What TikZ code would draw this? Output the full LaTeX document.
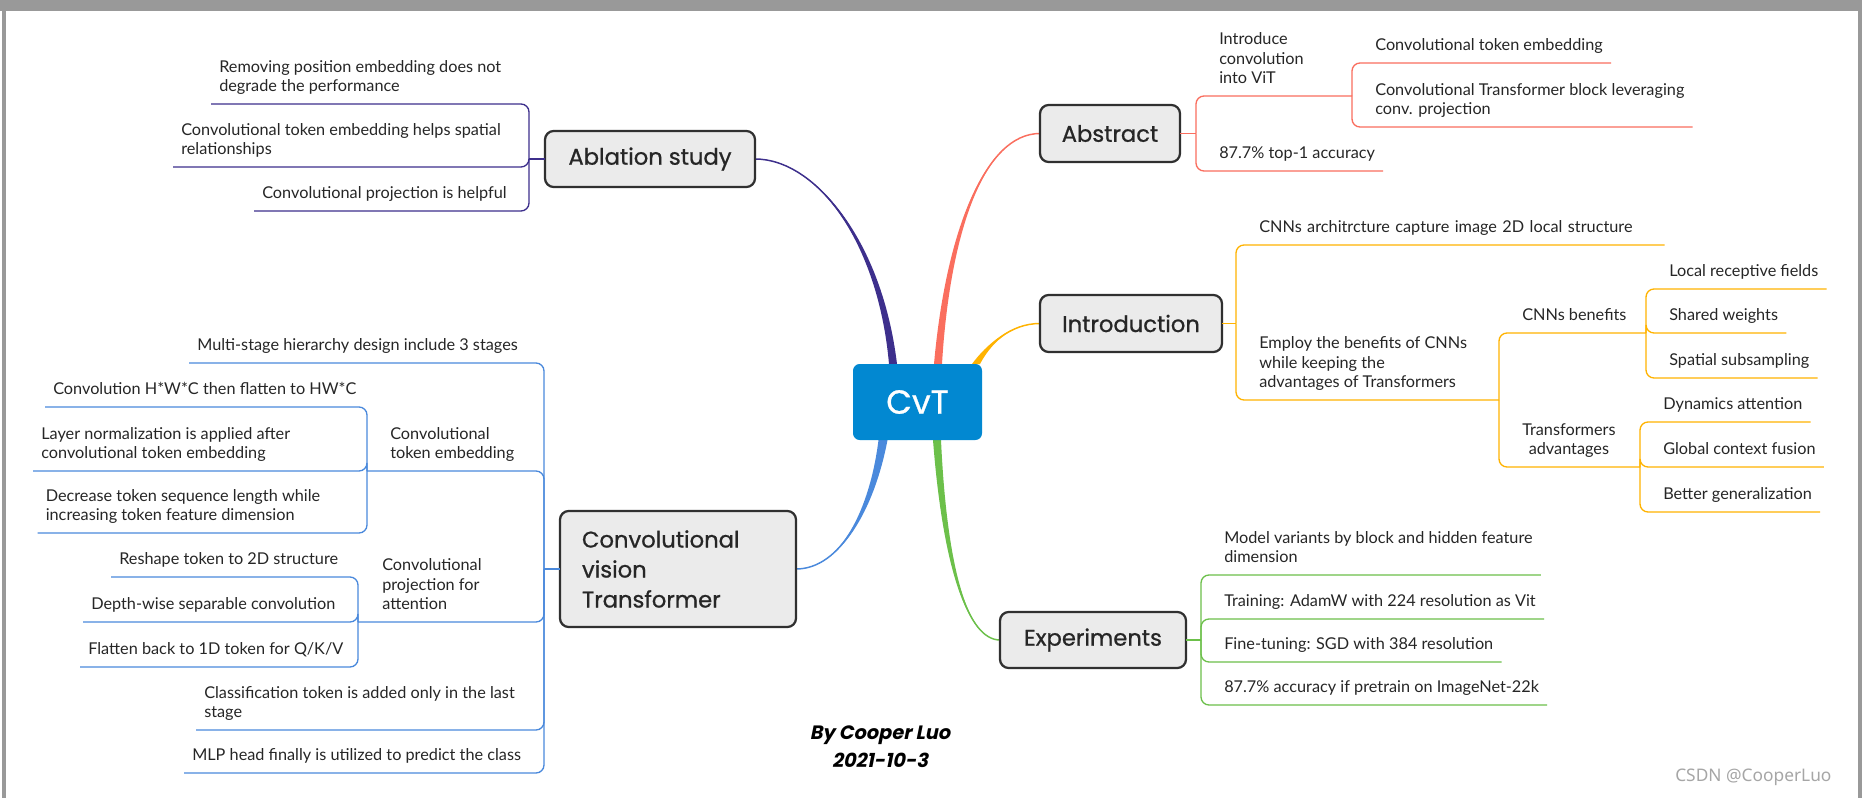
\documentclass[tikz,border=0pt]{standalone}
\usepackage{fontspec}
\setmainfont{Lato}
\newfontfamily\topicfont{Poppins}[FakeBold=0.8]
\newfontfamily\byfont{Poppins}[FakeSlant=0.2]
\newfontfamily\wmfont{Noto Sans}
\usetikzlibrary{calc}
\definecolor{cPur}{HTML}{3D2F8C}
\definecolor{cSal}{HTML}{FA6E5E}
\definecolor{cOra}{HTML}{FFB300}
\definecolor{cGre}{HTML}{6CC04A}
\definecolor{cBlu}{HTML}{4A89DC}
\definecolor{cCvt}{HTML}{0288D1}
\definecolor{cTopic}{HTML}{EBEBEB}
\definecolor{cBorder}{HTML}{303030}
\definecolor{cText}{HTML}{262626}
\definecolor{cFrame}{HTML}{999999}
\definecolor{cWm}{HTML}{A6A6A6}
\pgfdeclarelayer{bg}
\pgfsetlayers{bg,main}
\newcommand\mmtaper[6]{%
  \fill[#1] ($(#2)+(-#6,0)$) .. controls ($(#3)+(-#6*0.5,0)$) and (#4) .. (#5)
     .. controls (#4) and ($(#3)+(#6*0.5,0)$) .. ($(#2)+(#6,0)$) -- cycle;
  \draw[#1, line width=1.1pt] (#2) .. controls (#3) and (#4) .. (#5);}
\begin{document}
\begin{tikzpicture}[x=0.75pt, y=-0.75pt,
  topic/.style={draw=cBorder, line width=1.7pt, fill=cTopic, rounded corners=6.5pt,
    inner sep=0pt, outer sep=0pt, text=cText, font=\topicfont\fontsize{17}{22.5}\selectfont},
  leaf/.style={anchor=south west, inner xsep=6pt, inner ysep=4.62pt, align=left,
    text=cText, font=\fontsize{12.2}{14.6}\selectfont, execute at end node=\strut},
  ln/.style={line width=1pt, rounded corners=6pt}]
\useasboundingbox (0,0) rectangle (1862,798);
% ---- topics
\node[fill=cCvt, rounded corners=5pt, minimum width=96.75pt, minimum height=57pt, inner sep=0pt,
  outer sep=0pt, text=white, font=\topicfont\fontsize{25}{30}\selectfont] (cvt) at (917.5,402) {CvT};
\node[topic, minimum width=157.5pt, minimum height=42pt] (abl) at (650,159) {Ablation study};
\node[topic, minimum width=105pt, minimum height=42.75pt] (abs) at (1110,133.5) {Abstract};
\node[topic, minimum width=136.5pt, minimum height=42.75pt] (intro) at (1131,323.5) {Introduction};
\node[topic, minimum width=139.5pt, minimum height=42pt] (exp) at (1093,640) {Experiments};
\node[topic, minimum width=177pt, minimum height=87pt, text width=144pt, align=left] (cvx) at (678,569)
  {Convolutional\\vision\\Transformer};
% ---- main curves
\coordinate (sPur) at ($(cvt.north)+(-24.5,0)$);
\coordinate (sSal) at ($(cvt.north)+(20.5,0)$);
\coordinate (sOra) at ($(cvt.north east)+(-6,0)$);
\coordinate (sBlu) at ($(cvt.south)+(-34.5,0)$);
\coordinate (sGre) at ($(cvt.south)+(19.5,0)$);
\begin{pgfonlayer}{bg}
\fill[white] (0,0) rectangle (1862,798);
\mmtaper{cPur}{sPur}{880,240}{815,159}{abl.east}{4}
\mmtaper{cSal}{sSal}{948,230}{985,133.5}{abs.west}{4}
\mmtaper{cOra}{sOra}{988,345}{1010,323.5}{intro.west}{4}
\mmtaper{cBlu}{sBlu}{872,510}{840,569}{cvx.east}{4.5}
\mmtaper{cGre}{sGre}{945,570}{968,640}{exp.west}{4}
\end{pgfonlayer}
% ---- Ablation study
\coordinate (ablJ) at (529,159);
\node[leaf] (b1) at (211,104) {Removing position embedding does not\\degrade the performance};
\node[leaf] (b2) at (173,167) {Convolutional token embedding helps spatial\\relationships};
\node[leaf] (b3) at (254,211) {Convolutional projection is helpful};
\draw[ln, cPur] (abl.west) -- (ablJ);
\foreach \n in {b1,b2,b3} \draw[ln, cPur] (ablJ) |- (\n.south west);
% ---- Abstract
\coordinate (absJ) at (1196,133.5);
\coordinate (a1J) at (1352,96);
\node[leaf] (a1) at (1211,96) {Introduce\\convolution\\into ViT};
\node[leaf] (a11) at (1367,63) {Convolutional token embedding};
\node[leaf] (a12) at (1367,127) {Convolutional Transformer block leveraging\\conv. projection};
\node[leaf] (a2) at (1211,171) {87.7\% top-1 accuracy};
\draw[ln, cSal] (abs.east) -- (absJ);
\draw[ln, cSal] (absJ) |- (a1J);
\draw[ln, cSal] (absJ) |- (a2.south east);
\draw[ln, cSal] (a1J) |- (a11.south east);
\draw[ln, cSal] (a1J) |- (a12.south east);
% ---- Introduction
\coordinate (inJ) at (1236,323.5);
\coordinate (i2J) at (1499,400);
\coordinate (i21J) at (1646,333);
\coordinate (i22J) at (1640,467);
\node[leaf, text width=297.75pt] (i1) at (1251,245) {CNNs architrcture capture image 2D local structure};
\node[leaf] (i2) at (1251,400) {Employ the benefits of CNNs\\while keeping the\\advantages of Transformers};
\node[leaf] (i21) at (1514,333) {CNNs benefits};
\node[leaf, align=center] (i22) at (1514,467) {Transformers\\advantages};
\node[leaf] (i211) at (1661,289) {Local receptive fields};
\node[leaf] (i212) at (1661,333) {Shared weights};
\node[leaf] (i213) at (1661,378) {Spatial subsampling};
\node[leaf] (i221) at (1655,422) {Dynamics attention};
\node[leaf] (i222) at (1655,467) {Global context fusion};
\node[leaf] (i223) at (1655,512) {Better generalization};
\draw[ln, cOra] (intro.east) -- (inJ);
\draw[ln, cOra] (inJ) |- (i1.south east);
\draw[ln, cOra] (inJ) |- (i2J);
\draw[ln, cOra] (i2J) |- (i21J);
\draw[ln, cOra] (i2J) |- (i22J);
\foreach \n in {i211,i212,i213} \draw[ln, cOra] (i21J) |- (\n.south east);
\foreach \n in {i221,i222,i223} \draw[ln, cOra] (i22J) |- (\n.south east);
% ---- Experiments
\coordinate (exJ) at (1201,640);
\node[leaf] (e1) at (1216,575) {Model variants by block and hidden feature\\dimension};
\node[leaf] (e2) at (1216,619) {Training: AdamW with 224 resolution as Vit};
\node[leaf] (e3) at (1216,662) {Fine-tuning: SGD with 384 resolution};
\node[leaf] (e4) at (1216,705) {87.7\% accuracy if pretrain on ImageNet-22k};
\draw[ln, cGre] (exp.east) -- (exJ);
\foreach \n in {e1,e2,e3,e4} \draw[ln, cGre] (exJ) |- (\n.south east);
% ---- Convolutional vision Transformer
\coordinate (cvJ) at (544,569);
\coordinate (c2J) at (367,471);
\coordinate (c3J) at (358,622);
\node[leaf] (c1) at (189,363) {Multi-stage hierarchy design include 3 stages};
\node[leaf] (c2) at (382,471) {Convolutional\\token embedding};
\node[leaf] (c21) at (45,407) {Convolution H*W*C then flatten to HW*C};
\node[leaf] (c22) at (33,471) {Layer normalization is applied after\\convolutional token embedding};
\node[leaf] (c23) at (37.5,533) {Decrease token sequence length while\\increasing token feature dimension};
\node[leaf] (c3) at (374,622) {Convolutional\\projection for\\attention};
\node[leaf] (c31) at (111,577) {Reshape token to 2D structure};
\node[leaf] (c32) at (83,622) {Depth-wise separable convolution};
\node[leaf] (c33) at (80,667) {Flatten back to 1D token for Q/K/V};
\node[leaf] (c4) at (196,730) {Classification token is added only in the last\\stage};
\node[leaf] (c5) at (184,773) {MLP head finally is utilized to predict the class};
\draw[ln, cBlu] (cvx.west) -- (cvJ);
\draw[ln, cBlu] (cvJ) |- (c1.south west);
\draw[ln, cBlu] (cvJ) |- (c2J);
\draw[ln, cBlu] (cvJ) |- (c3J);
\draw[ln, cBlu] (cvJ) |- (c4.south west);
\draw[ln, cBlu] (cvJ) |- (c5.south west);
\foreach \n in {c21,c22,c23} \draw[ln, cBlu] (c2J) |- (\n.south west);
\foreach \n in {c31,c32,c33} \draw[ln, cBlu] (c3J) |- (\n.south west);
% ---- signature and mark
\node[font=\byfont\bfseries\fontsize{14.5}{21}\selectfont, text=black, align=center] (by) at (880,747)
  {By Cooper Luo\\2021-10-3};
\node[anchor=west, inner sep=0pt, font=\wmfont\fontsize{13}{16}\selectfont, text=cWm] (wm) at (1675,777)
  {CSDN @CooperLuo};
% ---- frame
\fill[cFrame] (0,0) rectangle (1862,11);
\fill[cFrame] (2,0) rectangle (6,798);
\fill[cFrame] (1857.5,0) rectangle (1862,798);
\end{tikzpicture}
\end{document}
